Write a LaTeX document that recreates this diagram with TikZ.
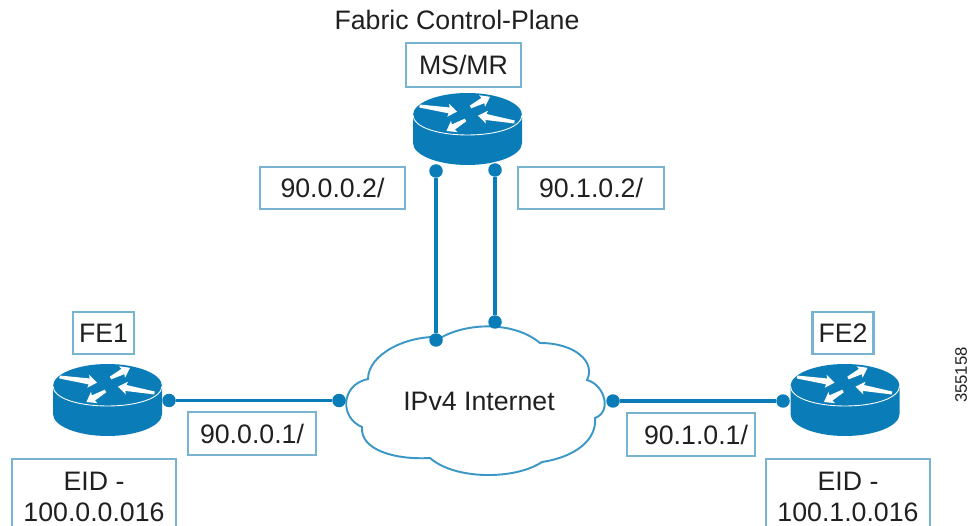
\documentclass[tikz,border=0pt]{standalone}
\usepackage{fontspec}
\setmainfont{Liberation Sans}
\definecolor{ciscoblue}{HTML}{0A7DB8}
\definecolor{boxblue}{HTML}{78B4D2}
\definecolor{inkgrey}{HTML}{202020}
\tikzset{
    label/.style={font=\fontsize{15.2}{18}\selectfont, text=inkgrey, inner sep=0pt},
    tagbox/.style={label, draw=boxblue, line width=1.3pt, fill=white, align=center},
    dot/.style={circle, fill=ciscoblue, inner sep=0pt, minimum size=0.27cm},
    link/.style={draw=ciscoblue, line width=1.9pt},
    router/.pic={
        \fill [ciscoblue] (-54.5,0) -- (-54.5,28)
            .. controls (-54.5,40) and (-30,50) .. (0,50)
            .. controls (30,50) and (54.5,40) .. (54.5,28) -- (54.5,0)
            .. controls (54.5,-12) and (30,-22) .. (0,-22)
            .. controls (-30,-22) and (-54.5,-12) .. (-54.5,0) -- cycle;
        \draw [white, line width=0.5pt] (-54.5,0)
            .. controls (-54.5,12) and (-30,20) .. (0,20)
            .. controls (30,20) and (54.5,12) .. (54.5,0);
        \foreach \ax/\ay/\ang/\len in {-48/-9/-8.5/38, 3/-8/27.6/22, 47/7/170/37, -2/5/210/22} {
            \fill [white, shift={(\ax,\ay)}, rotate=\ang] (0,-1.5) -- (\len-8,-3) -- (\len-9,-6.5)
                -- (\len,0) -- (\len-9,6.5) -- (\len-8,3) -- (0,1.5) -- cycle;
        }
    }
}
\begin{document}
\begin{tikzpicture}[x=0.02cm, y=-0.02cm]
    \path [use as bounding box, clip] (0,0) rectangle (969,526);

    % cloud
    \draw [draw=ciscoblue!80, line width=1.1pt, fill=white] (442,337)
        .. controls (470,322) and (515,322) .. (540,343)
        .. controls (575,343) and (596,362) .. (587,380)
        .. controls (605,385) and (612,412) .. (595,418)
        .. controls (597,440) and (575,457) .. (542,462)
        .. controls (515,480) and (455,480) .. (430,458)
        .. controls (395,460) and (360,450) .. (362,427)
        .. controls (340,418) and (340,385) .. (368,379)
        .. controls (368,355) and (405,335) .. (442,337) -- cycle;
    \node [label] (inet) at (479,401) {IPv4 Internet};

    % routers
    \pic at (467.5,115) {router};
    \pic at (107.5,386) {router};
    \pic at (845,386) {router};

    % link ends
    \node [dot] (msleft) at (436,171) {};
    \node [dot] (msright) at (495,170) {};
    \node [dot] (inetleft) at (436,340) {};
    \node [dot] (inetright) at (495,322) {};
    \node [dot] (feoneend) at (169,400.5) {};
    \node [dot] (inetwest) at (339,400.5) {};
    \node [dot] (inteast) at (613,401) {};
    \node [dot] (fetwoend) at (783,401) {};

    \draw [link] (msleft) -- (inetleft);
    \draw [link] (msright) -- (inetright);
    \draw [link] (feoneend) -- (inetwest);
    \draw [link] (inteast) -- (fetwoend);

    % labels
    \node [label] (title) at (457,20) {Fabric Control-Plane};
    \node [tagbox, minimum width=115*0.02cm, minimum height=44*0.02cm] (msmr) at (463.5,65) {MS/MR};
    \node [tagbox, minimum width=145*0.02cm, minimum height=42*0.02cm] (msaddrl) at (332.5,188) {90.0.0.2/};
    \node [tagbox, minimum width=146*0.02cm, minimum height=42*0.02cm] (msaddrr) at (591,188) {90.1.0.2/};
    \node [tagbox, minimum width=61*0.02cm, minimum height=42*0.02cm] (feone) at (103.5,333) {FE1};
    \node [tagbox, minimum width=61*0.02cm, minimum height=42*0.02cm] (fetwo) at (843,333) {FE2};
    \node [tagbox, minimum width=128*0.02cm, minimum height=43*0.02cm] (feoneaddr) at (252,433.5) {90.0.0.1/};
    \node [tagbox, minimum width=128*0.02cm, minimum height=43*0.02cm] (fetwoaddr) at (691,434.5) {\hspace*{0.2cm}90.1.0.1/};
    \node [tagbox, minimum width=164*0.02cm, minimum height=76*0.02cm] (feoneeid) at (94,497) {EID -\\100.0.0.016};
    \node [tagbox, minimum width=164*0.02cm, minimum height=76*0.02cm] (fetwoeid) at (848,497) {EID -\\100.1.0.016};
    \node [label, font=\fontsize{9.5}{11}\selectfont, rotate=90] (figid) at (961,375) {355158};
\end{tikzpicture}
\end{document}
